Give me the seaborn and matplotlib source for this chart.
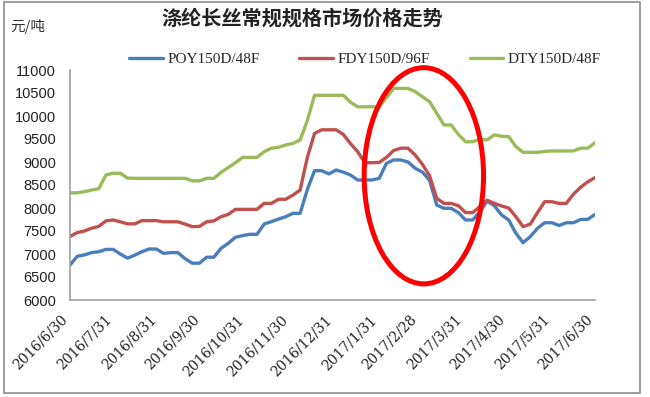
import pandas as pd
import matplotlib
matplotlib.use('Agg')
import matplotlib.pyplot as plt
import matplotlib.dates as mdates
import matplotlib.transforms as mtransforms
from matplotlib.patches import Ellipse, Rectangle
import seaborn as sns

# sampling grid: every 5 days, 2016/6/30 .. 2017/6/30
datas = pd.date_range('2016-06-30', periods=74, freq='5D')

poy = [6760, 6950, 6980, 7030, 7050, 7100, 7100, 7000, 6910, 6975,
       7050, 7108, 7108, 7015, 7030, 7030, 6900, 6800, 6800, 6930,
       6930, 7123, 7232, 7363, 7400, 7428, 7428, 7650, 7703, 7760,
       7811, 7885, 7885, 8400, 8811, 8811, 8740, 8826, 8780, 8717,
       8609, 8609, 8609, 8645, 8972, 9044, 9044, 9000, 8863, 8780,
       8600, 8065, 7993, 7993, 7900, 7740, 7740, 7920, 8150, 8050,
       7850, 7740, 7450, 7246, 7377, 7558, 7680, 7680, 7620, 7680,
       7680, 7750, 7754, 7860]

fdy = [7380, 7465, 7500, 7560, 7600, 7720, 7740, 7700, 7655, 7655,
       7725, 7725, 7725, 7700, 7700, 7700, 7650, 7595, 7600, 7700,
       7720, 7810, 7860, 7970, 7970, 7970, 7970, 8100, 8100, 8190,
       8190, 8280, 8390, 9100, 9620, 9700, 9700, 9700, 9600, 9400,
       9225, 8985, 8985, 8990, 9100, 9250, 9300, 9300, 9150, 8950,
       8700, 8210, 8100, 8100, 8050, 7900, 7900, 8030, 8170, 8100,
       8044, 8000, 7811, 7594, 7650, 7900, 8137, 8137, 8100, 8100,
       8300, 8450, 8570, 8660]

dty = [8330, 8330, 8355, 8390, 8420, 8720, 8755, 8755, 8650, 8645,
       8645, 8645, 8645, 8645, 8645, 8645, 8645, 8590, 8590, 8645,
       8645, 8775, 8880, 8985, 9100, 9100, 9100, 9225, 9300, 9320,
       9370, 9405, 9480, 9900, 10450, 10450, 10450, 10450, 10450, 10300,
       10200, 10200, 10200, 10200, 10400, 10600, 10600, 10600, 10530, 10420,
       10310, 10060, 9805, 9805, 9600, 9440, 9440, 9495, 9480, 9590,
       9560, 9550, 9335, 9210, 9210, 9210, 9230, 9240, 9240, 9240,
       9240, 9300, 9300, 9420]

series = ['POY150D/48F', 'FDY150D/96F', 'DTY150D/48F']
cores = ['#4a7ebb', '#c0504d', '#9bbb59']

df = pd.DataFrame({'data': list(datas) * 3,
                   'preco': poy + fdy + dty,
                   'serie': [series[0]] * len(poy) + [series[1]] * len(fdy) + [series[2]] * len(dty)})

sns.set_style('white')
plt.rcParams['font.family'] = ['Liberation Sans', 'Noto Sans CJK SC', 'DejaVu Sans']

fig = plt.figure(figsize=(6.5, 3.97), dpi=100)
ax = fig.add_axes([70 / 650, 1 - 300 / 397, 525 / 650, 230 / 397])

sns.lineplot(data=df, x='data', y='preco', hue='serie', hue_order=series,
             palette=cores, linewidth=2.4, ax=ax)

# eixos
ax.set_xlim(pd.Timestamp('2016-06-30'), pd.Timestamp('2017-06-30'))
ax.set_ylim(6000, 11000)
ax.set_yticks(range(6000, 11001, 500))
ticks = pd.date_range('2016-06-30', '2017-06-30', freq='ME')
ax.set_xticks(ticks)
ax.set_xticklabels([f'{d.year}/{d.month}/{d.day}' for d in ticks],
                   rotation=45, ha='right', va='top',
                   fontfamily='DejaVu Serif', fontsize=10, color='#222222')
desloc = mtransforms.ScaledTranslation(0.06, 0, fig.dpi_scale_trans)
for lab in ax.get_xticklabels():
    lab.set_transform(lab.get_transform() + desloc)
for lab in ax.get_yticklabels():
    lab.set_fontsize(10.5)
    lab.set_color('#222222')
ax.set_xlabel('')
ax.set_ylabel('')
for s in ['top', 'right']:
    ax.spines[s].set_visible(False)
for s in ['left', 'bottom']:
    ax.spines[s].set_color('#a0a0a0')
    ax.spines[s].set_linewidth(1.2)
ax.tick_params(axis='both', direction='in', length=4, width=1, color='#a0a0a0')
ax.tick_params(axis='x', pad=9)
ax.tick_params(axis='y', pad=10)
ax.grid(False)

# legenda
h, l = ax.get_legend_handles_labels()
ax.legend(h, l, ncol=3, frameon=False, loc='center',
          bbox_to_anchor=(365 / 650, 1 - 59 / 397), bbox_transform=fig.transFigure,
          prop={'family': 'Liberation Serif', 'size': 11},
          handlelength=2.2, handletextpad=0.3, columnspacing=2.6)

# titulo e unidade
fig.text(302 / 650, 1 - 18 / 397, '涤纶长丝常规规格市场价格走势', ha='center', va='center',
         fontsize=14.5, fontweight='bold', family=['Noto Sans CJK SC', 'DejaVu Sans'],
         color='#222222')
fig.text(10 / 650, 1 - 27 / 397, '元/吨', ha='left', va='center', fontsize=10.5,
         family=['Noto Sans CJK SC', 'DejaVu Sans'], color='#333333')

# destaque em vermelho
centro = mdates.date2num(pd.Timestamp('2017-03-03'))
elipse = Ellipse((centro, 8700), width=83, height=4700, fill=False,
                 edgecolor='#ff0000', linewidth=3.6, clip_on=False, zorder=5)
ax.add_patch(elipse)

# moldura
fig.add_artist(Rectangle((4 / 650, 1 - 393 / 397), 636 / 650, 391 / 397,
                         transform=fig.transFigure, fill=False,
                         edgecolor='#8c8c8c', linewidth=1.2))

fig.savefig('out.png', dpi=100)
